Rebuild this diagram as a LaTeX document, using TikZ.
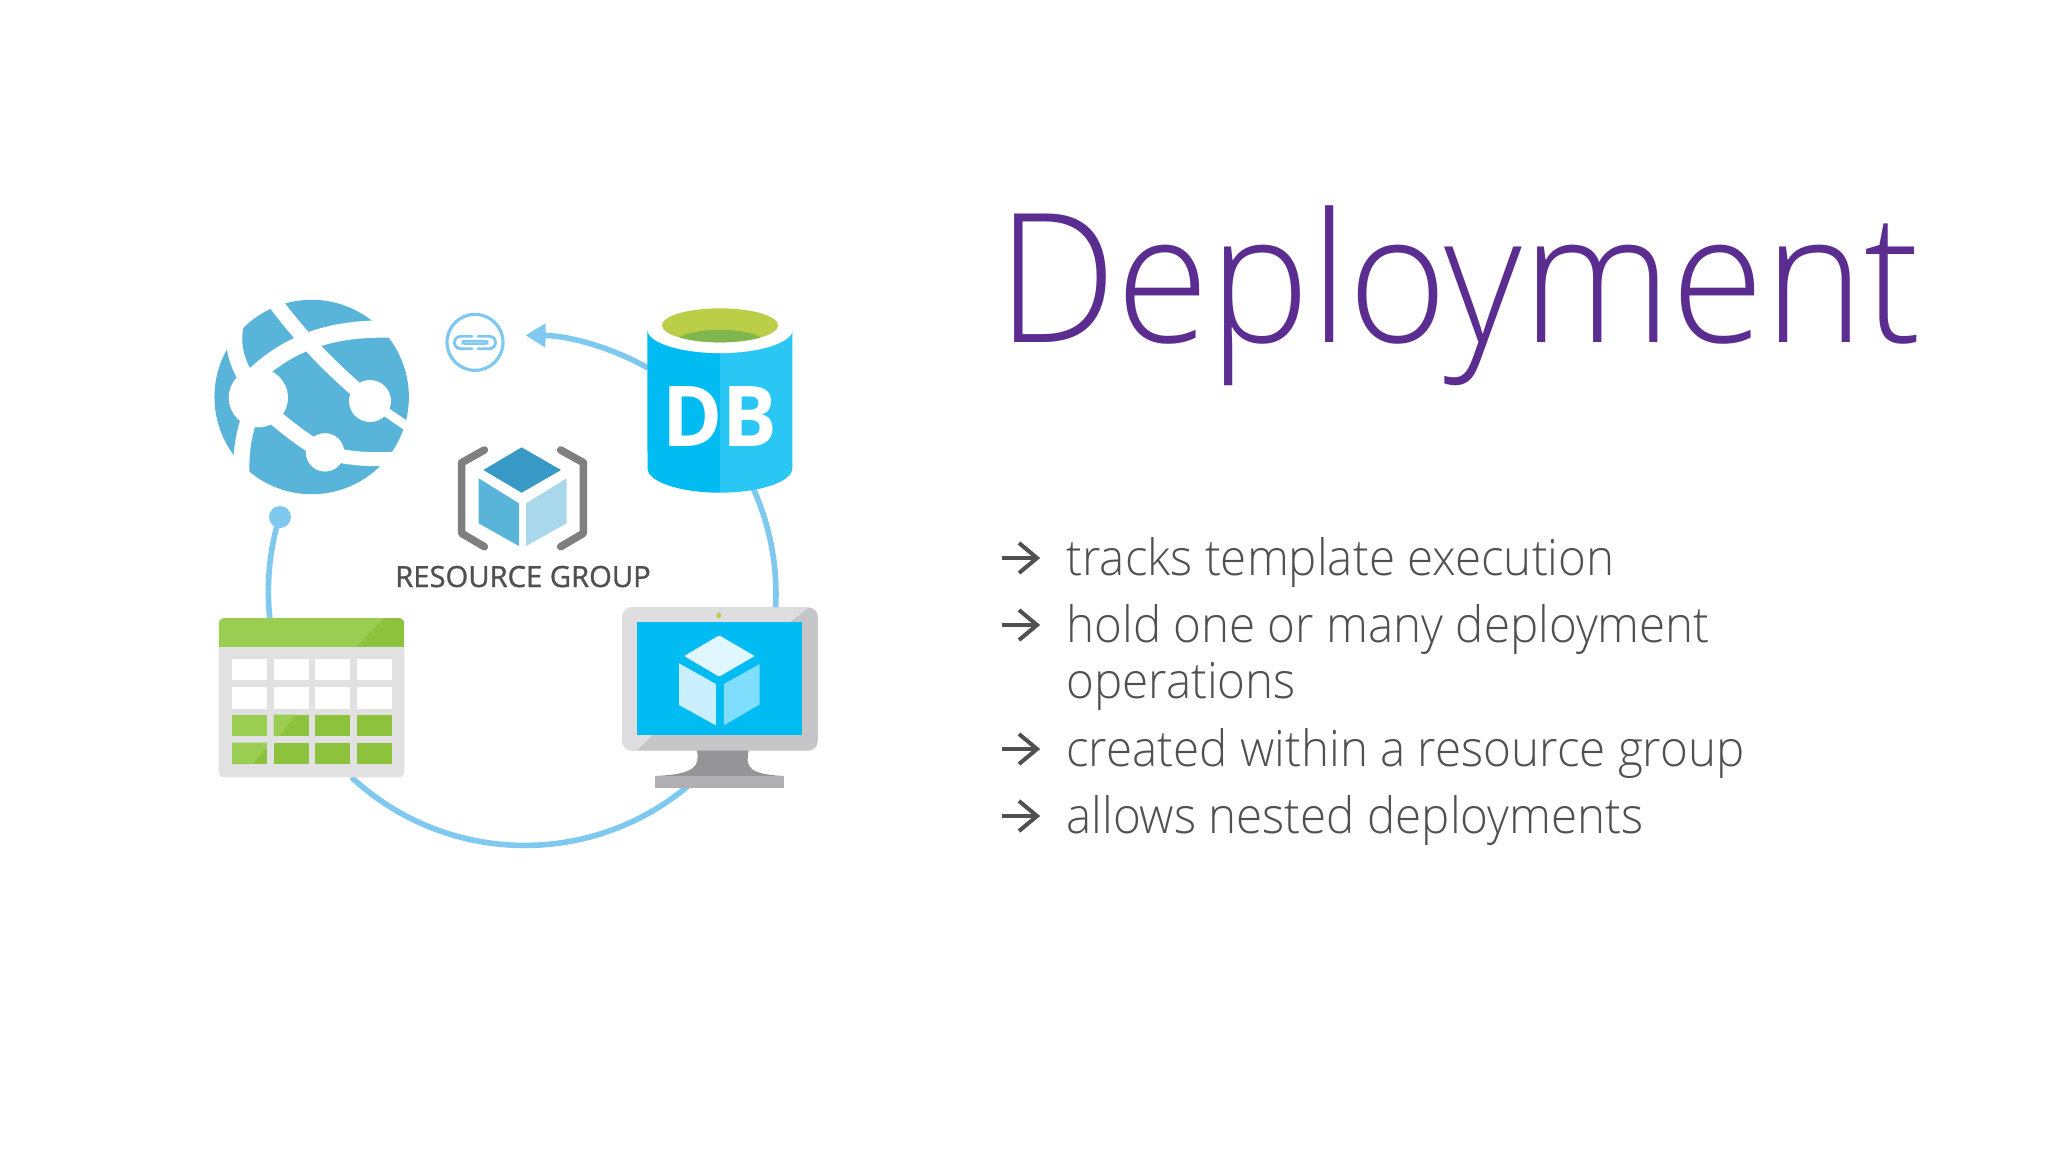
\documentclass[tikz,border=0pt]{standalone}
\usepackage{fontspec}
\usetikzlibrary{arrows.meta}
\newfontfamily\lightf[FakeStretch=.95]{Open Sans Light}
\newfontfamily\titlef[FakeStretch=.94]{Open Sans Light}
\newfontfamily\regf[FakeBold=1.1]{Open Sans}
\newfontfamily\boldf[FakeStretch=.97]{Open Sans}
\definecolor{ring}{HTML}{7FC8F0}
\definecolor{glob}{HTML}{59B4D9}
\definecolor{azdark}{HTML}{3999C6}
\definecolor{azlight}{HTML}{A9D7EC}
\definecolor{cyanL}{HTML}{00BCF2}
\definecolor{cyanR}{HTML}{2BC7F4}
\definecolor{olive}{HTML}{BBCE48}
\definecolor{oliveD}{HTML}{80B64E}
\definecolor{grn}{HTML}{8DC23C}
\definecolor{grnL}{HTML}{9ACE53}
\definecolor{tgray}{HTML}{E1E1E1}
\definecolor{bgray}{HTML}{7F7F7F}
\definecolor{txt}{HTML}{505050}
\definecolor{purp}{HTML}{5C2D91}
\tikzset{
  ringline/.style={draw=ring,line width=2.8pt},
  band/.style={draw=white,line cap=butt},
  bullettext/.style={anchor=base west,inner sep=0pt,text=txt,font=\lightf\fontsize{25}{25}\selectfont},
  bulletarrow/.style={draw=txt,line width=2pt,line join=miter},
}
\begin{document}
\begin{tikzpicture}[x=.5pt,y=-.5pt]
\useasboundingbox (0,0) rectangle (2048,1152);
\fill[white] (0,0) rectangle (2048,1152);

% ---- connector ends
\coordinate (dbW) at (648,368);
\coordinate (dbS) at (753,488);
\coordinate (monS) at (688,786);
\coordinate (tabS) at (349,775);
\coordinate (tabN) at (270,620);
\coordinate (monN) at (777,609);
\coordinate (dot) at (280,517);

% ---- connectors
\draw[ringline,-{Triangle[length=10pt,width=11.5pt]}] (dbW) arc[start angle=60.6,end angle=89.5,radius=127pt];
\draw[ringline] (dbS) arc[start angle=24.5,end angle=-4.2,radius=127.5pt];
\draw[ringline] (monS) arc[start angle=-50,end angle=-133,radius=127pt];
\draw[ringline] (tabN) arc[start angle=186.5,end angle=163.3,radius=127pt];
\fill[ring] (dot) circle[radius=5.5pt];

% ---- globe, zoom-1 coordinates
\begin{scope}[xshift=95pt,yshift=-135pt,x=.16667pt,y=-.16667pt]
  \fill[glob] (365,381) circle[radius=48.6pt];
  \begin{scope}
    \clip (365,381) circle[radius=50pt];
    \draw[band,line width=8pt] (136,170) .. controls (120,260) and (165,320) .. (205,383) .. controls (170,450) and (150,520) .. (155,620);
    \draw[band,line width=8.6pt] (190,320) .. controls (300,215) and (430,170) .. (620,178);
    \draw[band,line width=7.4pt] (250,90) .. controls (300,160) and (400,280) .. (540,393);
    \draw[band,line width=4.6pt] (540,393) -- (670,482);
    \draw[band,line width=8pt] (240,430) .. controls (300,480) and (350,520) .. (405,547);
    \draw[band,line width=7pt] (405,547) .. controls (470,565) and (540,572) .. (630,565);
  \end{scope}
  \fill[white] (205,383) circle[radius=14.8pt];
  \fill[white] (540,393) circle[radius=10.5pt];
  \fill[white] (405,547) circle[radius=9.6pt];

  % link icon
  \draw[ring,line width=1.6pt] (855,217) circle[radius=14pt];
  \draw[ring,line width=1.4pt,line cap=round] (846,199) -- (812,199) arc[start angle=90,end angle=270,radius=3.1pt] -- (846,236);
  \draw[ring,line width=1.4pt,line cap=round] (864,199) -- (898,199) arc[start angle=90,end angle=-90,radius=3.1pt] -- (864,236);
  \draw[ring,line width=1.1pt,rounded corners=.8pt] (818,213) rectangle (892,221);

  % resource group icon
  \draw[bgray,line width=3.8pt,line join=round,line cap=round] (883,540) -- (815,578) -- (815,790) -- (883,830);
  \draw[bgray,line width=3.8pt,line join=round,line cap=round] (1112,540) -- (1180,578) -- (1180,790) -- (1112,830);
  \fill[azdark] (995,532) -- (1113,600) -- (995,668) -- (880,600) -- cycle;
  \fill[glob] (866,625) -- (987,700) -- (987,828) -- (866,760) -- cycle;
  \fill[azlight] (1008,700) -- (1130,625) -- (1130,760) -- (1008,828) -- cycle;
\end{scope}

\node[anchor=base,inner sep=0pt,text=txt,font=\regf\fontsize{14.6}{14.6}\selectfont] (rg) at (523,587) {RESOURCE GROUP};

% ---- database, zoom-2 coordinates
\begin{scope}[xshift=215pt,yshift=-140pt,x=.16667pt,y=-.16667pt]
  \fill[cyanL] (652,148) -- (870,148) -- (870,638) arc[start angle=270,end angle=180,x radius=36.25pt,y radius=12.2pt] -- cycle;
  \fill[cyanR] (1087,148) -- (870,148) -- (870,638) arc[start angle=-90,end angle=0,x radius=36.15pt,y radius=12.2pt] -- cycle;
  \fill[white] (870,148) ellipse[x radius=36.4pt,y radius=11.9pt];
  \fill[olive] (870,136) ellipse[x radius=29pt,y radius=8.5pt];
  \begin{scope}
    \clip (870,136) ellipse[x radius=29pt,y radius=8.5pt];
    \fill[oliveD] (870,187) ellipse[x radius=22pt,y radius=6.3pt];
  \end{scope}
\end{scope}
\node[anchor=base,inner sep=0pt,text=white,font=\boldf\bfseries\fontsize{42}{42}\selectfont] (dbl) at (720,446) {DB};

% ---- table and monitor, zoom-3 coordinates
\begin{scope}[xshift=95pt,yshift=-295pt,x=.21097pt,y=-.16667pt]
  \fill[tgray,rounded corners=3pt] (68,84) rectangle (508,562);
  \begin{scope}
    \clip[rounded corners=3pt] (68,84) rectangle (508,300);
    \fill[grnL] (68,84) rectangle (508,170);
    \fill[grn] (395,170) -- (460,84) -- (508,84) -- (508,170) -- cycle;
  \end{scope}
  \foreach \xa/\xb in {100/183,198/281,297/380,396/479}{
    \fill[white] (\xa,207) rectangle (\xb,270);
    \fill[white] (\xa,291) rectangle (\xb,356);
    \fill[grn] (\xa,374) rectangle (\xb,438);
    \fill[grn] (\xa,458) rectangle (\xb,521);
  }
  \fill[grnL] (100,374) rectangle (183,438);
  \fill[grnL] (198,374) -- (250,374) -- (212,438) -- (198,438) -- cycle;
  \fill[grnL] (100,458) -- (183,458) -- (183,470) -- (148,521) -- (100,521) -- cycle;
\end{scope}

\begin{scope}[xshift=94.2pt,yshift=-295pt,x=.21097pt,y=-.16667pt]
  % monitor
  \fill[color={rgb,255:red,149;green,149;blue,151}] (1205,480) -- (1328,480) .. controls (1320,530) and (1325,552) .. (1411,558) -- (1107,558) .. controls (1200,552) and (1213,530) .. (1205,480) -- cycle;
  \fill[color={rgb,255:red,176;green,176;blue,178}] (1107,558) rectangle (1411,594);
  \fill[color={rgb,255:red,198;green,198;blue,200},rounded corners=5pt] (1028,52) rectangle (1492,482);
  \begin{scope}
    \clip[rounded corners=5pt] (1028,52) rectangle (1492,482);
    \fill[color={rgb,255:red,222;green,222;blue,224}] (1028,52) -- (1470,52) -- (1425,97) -- (1100,436) -- (1062,482) -- (1028,482) -- cycle;
  \end{scope}
  \fill[cyanL] (1062,97) rectangle (1455,436);
  \fill[olive] (1257,76) ellipse[x radius=1.2pt,y radius=1.4pt];
  \fill[color={rgb,255:red,224;green,247;blue,255},rounded corners=.5pt] (1258,136) -- (1342,198) -- (1258,260) -- (1175,198) -- cycle;
  \fill[color={rgb,255:red,202;green,240;blue,255}] (1163,220) -- (1250,282) -- (1250,406) -- (1163,345) -- cycle;
  \fill[color={rgb,255:red,126;green,222;blue,252}] (1354,222) -- (1269,282) -- (1269,406) -- (1354,343) -- cycle;
\end{scope}

% ---- right column
\node[anchor=base west,inner sep=0pt,text=purp,font=\titlef\fontsize{90}{90}\selectfont] (title) at (997,342) {Deployment};
\node[bullettext] (b1) at (1066,575) {tracks template execution};
\node[bullettext] (b2) at (1066,642) {hold one or many deployment};
\node[bullettext] (b2b) at (1066,698) {operations};
\node[bullettext] (b3) at (1066,766) {created within a resource group};
\node[bullettext] (b4) at (1066,833) {allows nested deployments};
\foreach \y in {558,625,749,816}{
  \draw[bulletarrow] (1002,\y) -- (1037,\y);
  \draw[bulletarrow] (1019,\y-15) -- (1037,\y) -- (1019,\y+15);
}
\end{tikzpicture}
\end{document}
